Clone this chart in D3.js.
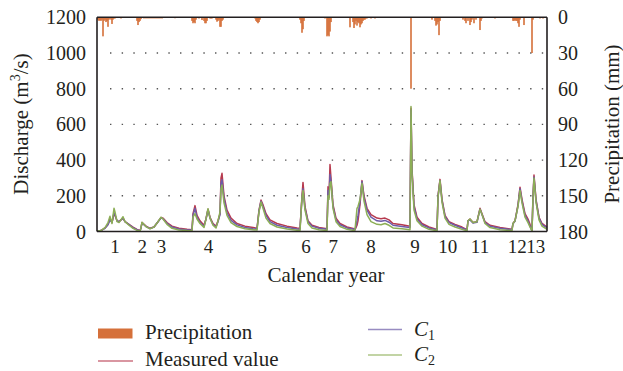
<!DOCTYPE html>
<html><head><meta charset="utf-8">
<script src="https://cdn.jsdelivr.net/npm/d3@7/dist/d3.min.js"></script>
<style>
html,body{margin:0;padding:0;background:#fff;}
</style></head>
<body><svg id="chart" width="623" height="371" style="font-family:'Liberation Serif','DejaVu Serif',serif"></svg>
<script>
// ---- data (day index along the record) ----
const eventLabels = ["1","2","3","4","5","6","7","8","9","10","11","12","13"];
const eventDays   = [18, 45.3, 64.5, 111.5, 165.3, 209, 236.3, 274, 318, 350.7, 383, 420.3, 438.7];

const leftTicks  = [0, 200, 400, 600, 800, 1000, 1200];
const rightTicks = [0, 30, 60, 90, 120, 150, 180];

const days = [0,4,8,11,13,15,17,18,20,22,26,28,32,36,40,43,44,45,49,53,57,61,64,66,70,75,82,90,95,96,98,100,103,107,109,111,113,116,119,121,123,124,125,127,130,134,140,148,156,160,162,164,166,169,173,180,190,200,203,205,206,208,211,215,222,230,231,232,233,234,236,239,243,250,257,258,260,261,263,265,267,270,274,280,284,288,292,296,305,313,314,315,317,320,325,332,340,341,343,345,348,352,358,365,370,371,373,376,380,383,385,388,393,403,415,416,418,421,423,425,428,431,433,435,436,437,439,442,445,450];
const measured = [2,5,20,40,70,50,100,90,60,55,75,55,40,25,12,5,20,50,30,18,25,55,78,75,50,30,18,12,10,100,145,90,60,35,70,125,80,45,30,60,100,300,326,200,120,75,45,30,22,18,120,176,150,100,65,45,30,20,18,200,275,140,60,35,22,15,250,200,375,300,150,75,45,25,15,10,35,60,150,285,200,130,95,75,72,75,65,45,38,30,690,350,150,80,45,25,12,200,292,180,90,55,40,25,10,60,70,50,55,130,100,55,35,22,12,45,60,150,248,180,100,70,40,5,200,316,180,80,45,25];
const c1 = [2,5,18,38,65,50,105,95,60,55,75,55,38,22,10,3,20,48,28,16,25,55,76,72,45,25,14,9,8,90,130,80,50,28,70,122,75,40,25,55,95,270,290,185,105,62,37,22,16,14,115,170,140,90,55,35,22,14,12,190,240,130,55,30,18,12,230,190,320,280,140,65,38,20,12,10,60,90,170,280,190,120,80,60,58,62,52,35,28,22,680,340,140,70,38,20,8,195,285,175,85,50,35,20,8,60,65,48,52,125,95,50,30,18,10,45,58,145,240,170,90,60,30,3,190,305,175,75,40,20];
const c2 = [2,5,22,50,85,45,130,110,55,50,83,55,35,18,6,1,20,52,27,15,25,55,80,70,40,18,8,5,4,80,100,70,45,22,70,128,75,35,20,60,110,240,260,160,90,50,28,15,10,8,110,165,130,75,45,25,14,7,5,190,230,120,45,20,10,5,200,180,270,279,130,55,28,12,5,10,130,140,180,270,170,95,55,40,38,45,35,20,15,10,700,330,120,60,30,12,4,190,285,165,75,40,25,12,4,60,70,50,55,125,95,45,22,10,5,45,60,140,230,160,80,50,25,2,185,300,165,65,30,12];

const precipDays = [1,2,3,4,5,6,7,8,9,10,11,12,13,14,15,16,17,18,24,40,41,42,43,44,47,49,51,53,55,57,59,61,63,65,78,95,96,97,98,99,102,105,107,108,109,110,113,114,115,119,120,121,122,123,124,125,126,150,158,159,160,161,162,163,203,204,205,206,207,228,230,231,232,233,234,253,256,257,258,259,260,261,262,263,264,265,266,267,268,269,270,274,278,314,335,338,339,340,341,342,343,366,368,369,371,373,374,375,377,379,383,384,385,398,416,417,418,419,420,421,422,423,427,435,436,443,446];
const precipMm   = [2,3,2.5,3,2,16,3,2,4,3,8,2,1,2,5.6,2,1,1,1,3,6.5,4,3,1.5,1,1,1,1,1,1,1,1,1,1,0.8,3,5,4,5,2,1,2.3,3,5,5,3,1,1,1,2,3.7,3,2,8,8,3,2,0.5,1,3,4,5,4,2,2,5,13,10,3,1,16,15,16,12,4,8.4,4,9,6,3,7,4,5,8.4,6,5,3,2,2,1,1,1,1,60,2,3,7,6,4,15,3,2,3,5,3,6.5,4,2,5,2,10.7,3,1,1,3,3,2.5,3,3,5,8,2,6.5,30,2,1,1];

const seriesNames  = ["Measured value", "C1", "C2"];
const seriesColors = ["#b73a4e", "#6d5ca8", "#8cae56"];
const precipColor  = "#d5703a";
const FONT = "'Liberation Serif','DejaVu Serif',serif";

// ---- layout ----
const svg = d3.select("#chart");
const L = 97, R = 547, T = 17.3, B = 231.5;
const x  = d3.scaleLinear().domain([0, 450]).range([L, R]);
const y  = d3.scaleLinear().domain([0, 1200]).range([B, T]);
const y2 = d3.scaleLinear().domain([0, 180]).range([T, B]);

// grid
svg.append("g").selectAll("line").data(leftTicks.filter(d => d > 0 && d < 1200)).join("line")
  .attr("x1", 110).attr("x2", R).attr("y1", d => y(d)).attr("y2", d => y(d))
  .attr("stroke", "#555").attr("stroke-width", 1.4).attr("stroke-dasharray", "1.4,10.27");

// precipitation bars
svg.append("g").selectAll("rect").data(precipDays.map((d, i) => [d, precipMm[i]])).join("rect")
  .attr("x", d => x(d[0]) - 0.8).attr("width", 1.6)
  .attr("y", T).attr("height", d => y2(d[1]) - y2(0))
  .attr("fill", precipColor);

// lines
const lineGen = vals => d3.line().x((d, i) => x(days[i])).y(d => y(d))(vals);
[measured, c1, c2].forEach((vals, k) => {
  svg.append("path").attr("d", lineGen(vals)).attr("fill", "none")
    .attr("stroke", seriesColors[k]).attr("stroke-width", 1.5).attr("stroke-linejoin", "round");
});

// axes frame
const ax = svg.append("g").attr("stroke", "#231f20").attr("fill", "none");
ax.append("line").attr("x1", L).attr("x2", L).attr("y1", T).attr("y2", B).attr("stroke-width", 1.6);
ax.append("line").attr("x1", R).attr("x2", R).attr("y1", T).attr("y2", B).attr("stroke-width", 1.6);
ax.append("line").attr("x1", L).attr("x2", R).attr("y1", T).attr("y2", T).attr("stroke-width", 1.4);
ax.append("line").attr("x1", L).attr("x2", R).attr("y1", B).attr("y2", B).attr("stroke-width", 1.6);

const txt = sel => sel.attr("font-family", FONT).attr("fill", "#231f20");

// tick labels
svg.append("g").selectAll("text").data(leftTicks).join("text").call(txt)
  .attr("x", 86).attr("y", d => y(d)).attr("dy", "0.35em").attr("text-anchor", "end")
  .attr("font-size", 20).text(d => d);
svg.append("g").selectAll("text").data(rightTicks).join("text").call(txt)
  .attr("x", 558).attr("y", d => y2(d)).attr("dy", "0.35em").attr("text-anchor", "start")
  .attr("font-size", 20).text(d => d);
svg.append("g").selectAll("text").data(eventLabels).join("text").call(txt)
  .attr("x", (d, i) => x(eventDays[i])).attr("y", 253).attr("text-anchor", "middle")
  .attr("font-size", 19).text(d => d);

// axis titles
svg.append("text").call(txt).attr("x", 326).attr("y", 282).attr("text-anchor", "middle")
  .attr("font-size", 21).text("Calendar year");
const yt = svg.append("text").call(txt).attr("transform", "translate(28,124) rotate(-90)")
  .attr("text-anchor", "middle").attr("font-size", 21);
yt.append("tspan").text("Discharge (m");
yt.append("tspan").attr("dy", -8).attr("font-size", 14).text("3");
yt.append("tspan").attr("dy", 8).text("/s)");
svg.append("text").call(txt).attr("transform", "translate(619,124) rotate(-90)")
  .attr("text-anchor", "middle").attr("font-size", 21).text("Precipitation (mm)");

// legend
const lg = svg.append("g");
lg.append("rect").attr("x", 98).attr("y", 328.5).attr("width", 34.5).attr("height", 10).attr("fill", precipColor);
lg.append("text").call(txt).attr("x", 145).attr("y", 339).attr("font-size", 21).text("Precipitation");
lg.append("line").attr("x1", 98).attr("x2", 133).attr("y1", 361).attr("y2", 361)
  .attr("stroke", seriesColors[0]).attr("stroke-width", 1.3).attr("opacity", 0.7);
lg.append("text").call(txt).attr("x", 145).attr("y", 366).attr("font-size", 21).text(seriesNames[0]);
[[1, 329.5], [2, 355]].forEach(([k, yy]) => {
  lg.append("line").attr("x1", 368).attr("x2", 402).attr("y1", yy).attr("y2", yy)
    .attr("stroke", seriesColors[k]).attr("stroke-width", 1.3).attr("opacity", 0.7);
  const t = lg.append("text").call(txt).attr("x", 414).attr("y", yy + 6).attr("font-size", 21);
  t.append("tspan").attr("font-style", "italic").text(seriesNames[k][0]);
  t.append("tspan").attr("dy", 4).attr("font-size", 14).text(seriesNames[k].slice(1));
});
</script></body></html>
